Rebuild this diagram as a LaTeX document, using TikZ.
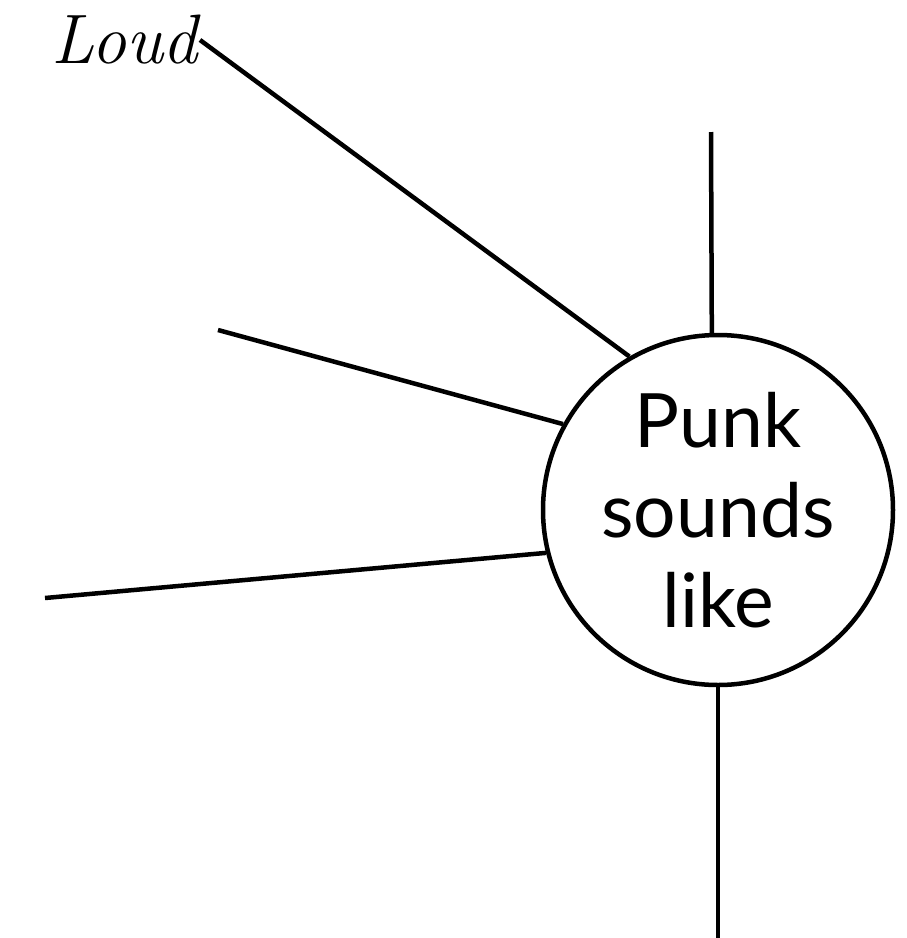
\documentclass[tikz,border=0pt]{standalone}
\usepackage{fontspec}
\newfontfamily\hubfont{Lato}
\tikzset{
  hub/.style={draw, circle, line width=4.5pt, inner sep=0pt, align=center, minimum size=350pt,
    font=\hubfont\fontsize{75}{90}\selectfont},
  lbl/.style={inner sep=2pt, font=\itshape\fontsize{70}{70}\selectfont},
  e/.style={line width=4.5pt}
}

\begin{document}
\begin{tikzpicture}[x=1pt, y=-1pt]
  \useasboundingbox (0,0) rectangle (907,938);

  \node[hub] (punk) at (718,510) {Punk\\sounds\\like};
  \node[lbl, anchor=east] (loud) at (200,40) {Loud};

  \coordinate (top) at (711,132);
  \coordinate (mid) at (218,330);
  \coordinate (low) at (45,598);
  \coordinate (bot) at (718,940);

  \draw[e] (loud.east) -- (punk.120.6);
  \draw[e] (mid) -- (punk.151.4);
  \draw[e] (low) -- (punk.194.6);
  \draw[e] (top) -- (punk.92.3);
  \draw[e] (punk.south) -- (bot);
\end{tikzpicture}
\end{document}
